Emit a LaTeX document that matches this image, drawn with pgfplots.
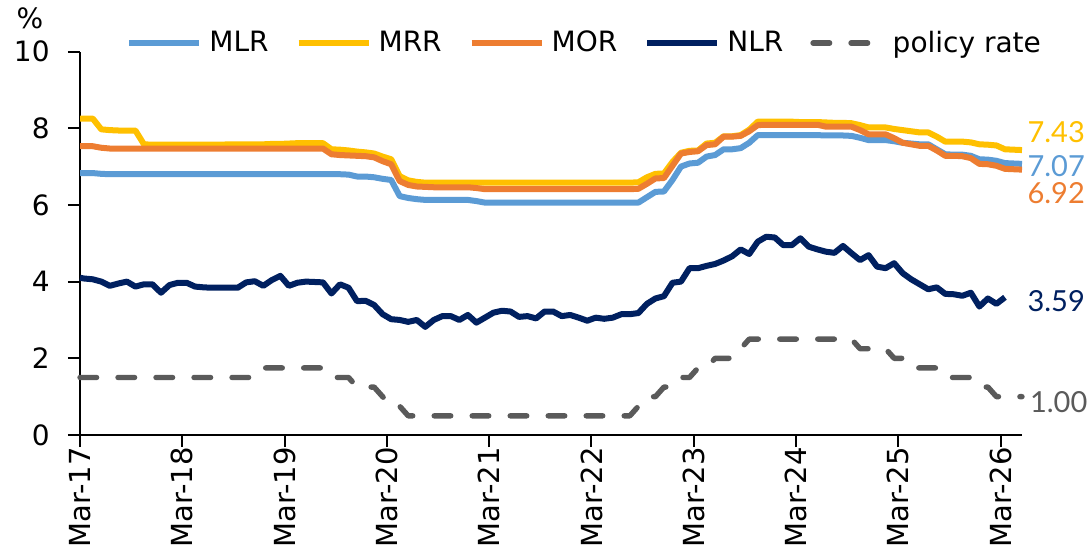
\documentclass[border=0pt]{standalone}
\usepackage{fontspec}
\setmainfont{DejaVu Sans}
\newfontfamily\endfont{Lato}
\usepackage{pgfplots}
\usepackage{pgfplotstable}
\pgfplotsset{compat=1.18}
\definecolor{mlr}{HTML}{5B9BD5}
\definecolor{mrr}{HTML}{FFC000}
\definecolor{mor}{HTML}{ED7D31}
\definecolor{nlr}{HTML}{002060}
\definecolor{pol}{HTML}{5A5A5A}

% x = months since Mar-17 (month k plotted at k+0.5)
\pgfplotstableread{
x     mlr  mrr  mor  nlr  pol
0     6.83 8.25 7.53 4.10 1.50
0.5   6.83 8.25 7.53 4.08 1.50
1.5   6.83 8.25 7.53 4.06 1.50
2.5   6.81 7.97 7.49 4.00 1.50
3.5   6.80 7.95 7.47 3.89 1.50
4.5   6.80 7.94 7.47 3.95 1.50
5.5   6.80 7.94 7.47 4.00 1.50
6.5   6.80 7.94 7.47 3.87 1.50
7.5   6.80 7.58 7.47 3.93 1.50
8.5   6.80 7.57 7.47 3.93 1.50
9.5   6.80 7.57 7.47 3.71 1.50
10.5  6.80 7.57 7.47 3.91 1.50
11.5  6.80 7.57 7.47 3.97 1.50
12.5  6.80 7.57 7.47 3.97 1.50
13.5  6.80 7.57 7.47 3.87 1.50
14.5  6.80 7.57 7.47 3.85 1.50
15.5  6.80 7.57 7.47 3.84 1.50
16.5  6.80 7.57 7.47 3.84 1.50
17.5  6.80 7.58 7.47 3.84 1.50
18.5  6.80 7.58 7.47 3.84 1.50
19.5  6.80 7.58 7.47 3.98 1.50
20.5  6.80 7.58 7.47 4.01 1.50
21.5  6.80 7.58 7.47 3.89 1.75
22.5  6.80 7.59 7.47 4.04 1.75
23.5  6.80 7.59 7.47 4.15 1.75
24.5  6.80 7.60 7.47 3.89 1.75
25.5  6.80 7.61 7.47 3.97 1.75
26.5  6.80 7.61 7.47 4.00 1.75
27.5  6.80 7.61 7.47 3.99 1.75
28.5  6.80 7.61 7.47 3.98 1.75
29.5  6.80 7.45 7.32 3.69 1.50
30.5  6.80 7.44 7.30 3.93 1.50
31.5  6.79 7.42 7.29 3.84 1.50
32.5  6.74 7.39 7.28 3.49 1.25
33.5  6.74 7.37 7.27 3.50 1.25
34.5  6.72 7.34 7.24 3.39 1.25
35.5  6.68 7.26 7.14 3.15 1.00
36.5  6.65 7.19 7.06 3.02 0.75
37.5  6.23 6.75 6.62 3.00 0.75
38.5  6.18 6.64 6.52 2.95 0.50
39.5  6.15 6.60 6.48 3.00 0.50
40.5  6.13 6.58 6.47 2.82 0.50
41.5  6.13 6.58 6.46 3.00 0.50
42.5  6.13 6.58 6.46 3.10 0.50
43.5  6.13 6.58 6.46 3.10 0.50
44.5  6.13 6.58 6.46 3.00 0.50
45.5  6.13 6.58 6.46 3.13 0.50
46.5  6.10 6.58 6.44 2.93 0.50
47.5  6.06 6.58 6.41 3.06 0.50
48.5  6.06 6.58 6.41 3.19 0.50
49.5  6.06 6.58 6.41 3.24 0.50
50.5  6.06 6.58 6.41 3.22 0.50
51.5  6.06 6.58 6.41 3.08 0.50
52.5  6.06 6.58 6.41 3.10 0.50
53.5  6.06 6.58 6.41 3.04 0.50
54.5  6.06 6.58 6.41 3.22 0.50
55.5  6.06 6.58 6.41 3.22 0.50
56.5  6.06 6.58 6.41 3.10 0.50
57.5  6.06 6.58 6.41 3.13 0.50
58.5  6.06 6.58 6.41 3.06 0.50
59.5  6.06 6.58 6.41 2.98 0.50
60.5  6.06 6.58 6.41 3.06 0.50
61.5  6.06 6.58 6.41 3.03 0.50
62.5  6.06 6.58 6.41 3.06 0.50
63.5  6.06 6.58 6.41 3.15 0.50
64.5  6.06 6.58 6.41 3.15 0.50
65.5  6.06 6.59 6.42 3.18 0.75
66.5  6.20 6.72 6.55 3.42 1.00
67.5  6.34 6.81 6.69 3.56 1.00
68.5  6.35 6.82 6.70 3.62 1.25
69.5  6.65 7.12 7.02 3.97 1.25
70.5  7.00 7.36 7.34 4.00 1.50
71.5  7.08 7.41 7.38 4.35 1.50
72.5  7.10 7.42 7.40 4.35 1.75
73.5  7.26 7.60 7.56 4.41 1.75
74.5  7.30 7.62 7.58 4.46 2.00
75.5  7.45 7.79 7.78 4.55 2.00
76.5  7.45 7.79 7.78 4.66 2.00
77.5  7.48 7.82 7.80 4.84 2.25
78.5  7.62 7.96 7.92 4.72 2.50
79.5  7.82 8.17 8.08 5.04 2.50
80.5  7.82 8.17 8.09 5.17 2.50
81.5  7.82 8.17 8.09 5.15 2.50
82.5  7.82 8.17 8.09 4.95 2.50
83.5  7.82 8.17 8.09 4.95 2.50
84.5  7.82 8.16 8.09 5.13 2.50
85.5  7.82 8.16 8.09 4.91 2.50
86.5  7.82 8.16 8.09 4.84 2.50
87.5  7.81 8.15 8.04 4.78 2.50
88.5  7.81 8.14 8.04 4.75 2.50
89.5  7.81 8.14 8.04 4.93 2.50
90.5  7.80 8.13 8.04 4.74 2.50
91.5  7.75 8.08 7.95 4.56 2.25
92.5  7.69 8.02 7.84 4.69 2.25
93.5  7.69 8.02 7.84 4.39 2.25
94.5  7.69 8.02 7.84 4.35 2.25
95.5  7.66 7.98 7.74 4.48 2.00
96.5  7.62 7.95 7.62 4.22 2.00
97.5  7.60 7.92 7.58 4.06 1.75
98.5  7.58 7.89 7.54 3.93 1.75
99.5  7.58 7.89 7.54 3.80 1.75
100.5 7.45 7.78 7.42 3.85 1.75
101.5 7.32 7.65 7.28 3.68 1.50
102.5 7.31 7.65 7.28 3.67 1.50
103.5 7.31 7.65 7.27 3.63 1.50
104.5 7.28 7.63 7.22 3.71 1.50
105.5 7.19 7.58 7.07 3.35 1.25
106.5 7.18 7.57 7.06 3.56 1.25
107.5 7.15 7.55 7.02 3.42 1.00
108.5 7.09 7.45 6.94 3.59 1.00
109.5 7.08 7.44 6.93 nan  1.00
110.5 7.07 7.43 6.92 nan  1.00
}\rates

\begin{document}
\begin{tikzpicture}
\path[use as bounding box] (-40pt,-59pt) rectangle (504pt,217.5pt);
\begin{axis}[
  at={(0pt,0pt)}, anchor=south west,
  scale only axis,
  width=471pt, height=191.75pt,
  xmin=0, xmax=110.5,
  ymin=0, ymax=10,
  clip=false,
  axis x line*=bottom,
  axis y line*=left,
  axis line style={black, line width=1pt},
  tick align=outside,
  major tick length=6pt,
  tick style={black, line width=1pt},
  xtick={0,12,...,108},
  xticklabels={Mar-17,Mar-18,Mar-19,Mar-20,Mar-21,Mar-22,Mar-23,Mar-24,Mar-25,Mar-26},
  xticklabel style={rotate=90, anchor=east, inner sep=0pt, font=\fontsize{14.5}{14.5}\selectfont},
  ytick={0,2,...,10},
  yticklabel style={anchor=east, inner sep=0pt, xshift=-9pt, font=\fontsize{14}{14}\selectfont},
  /pgf/number format/assume math mode=true,
  legend columns=5,
  legend style={
    at={(axis description cs:0,1)}, anchor=west,
    xshift=23pt, yshift=4.25pt,
    draw=none, fill=none, inner sep=0pt,
    nodes={inner sep=0pt},
    font=\fontsize{14}{14}\selectfont,
    /tikz/every odd column/.append style={column sep=3.5pt},
    /tikz/every even column/.append style={column sep=13.5pt},
  },
  legend image code/.code={\draw[#1] (0pt,0pt) -- (35pt,0pt);},
  every axis plot/.append style={line join=round},
]
\addplot[mlr, line width=3pt] table[x=x, y=mlr] {\rates};
\addlegendentry{MLR}
\addplot[mrr, line width=3pt] table[x=x, y=mrr] {\rates};
\addlegendentry{MRR}
\addplot[mor, line width=3pt] table[x=x, y=mor] {\rates};
\addlegendentry{MOR}
\addplot[nlr, line width=3pt] table[x=x, y=nlr] {\rates};
\addlegendentry{NLR}
\addplot[pol, line width=2.7pt, line cap=round, dash pattern=on 8.3pt off 10.7pt] table[x=x, y=pol] {\rates};
\addlegendentry{policy rate}

\node[anchor=center, font=\fontsize{14}{14}\selectfont] at (axis cs:-5.87,10.87) {\%};
\node[anchor=west, inner sep=0pt, text=mrr, font=\endfont\fontsize{14.5}{14.5}\selectfont] at (axis cs:111.1,7.90) {7.43};
\node[anchor=west, inner sep=0pt, text=mlr, font=\endfont\fontsize{14.5}{14.5}\selectfont] at (axis cs:111.1,7.02) {7.07};
\node[anchor=west, inner sep=0pt, text=mor, font=\endfont\fontsize{14.5}{14.5}\selectfont] at (axis cs:111.1,6.31) {6.92};
\node[anchor=west, inner sep=0pt, text=nlr, font=\endfont\fontsize{14.5}{14.5}\selectfont] at (axis cs:111.1,3.49) {3.59};
\node[anchor=west, inner sep=0pt, text=pol, font=\endfont\fontsize{14.5}{14.5}\selectfont] at (axis cs:111.4,0.87) {1.00};
\end{axis}
\end{tikzpicture}
\end{document}
